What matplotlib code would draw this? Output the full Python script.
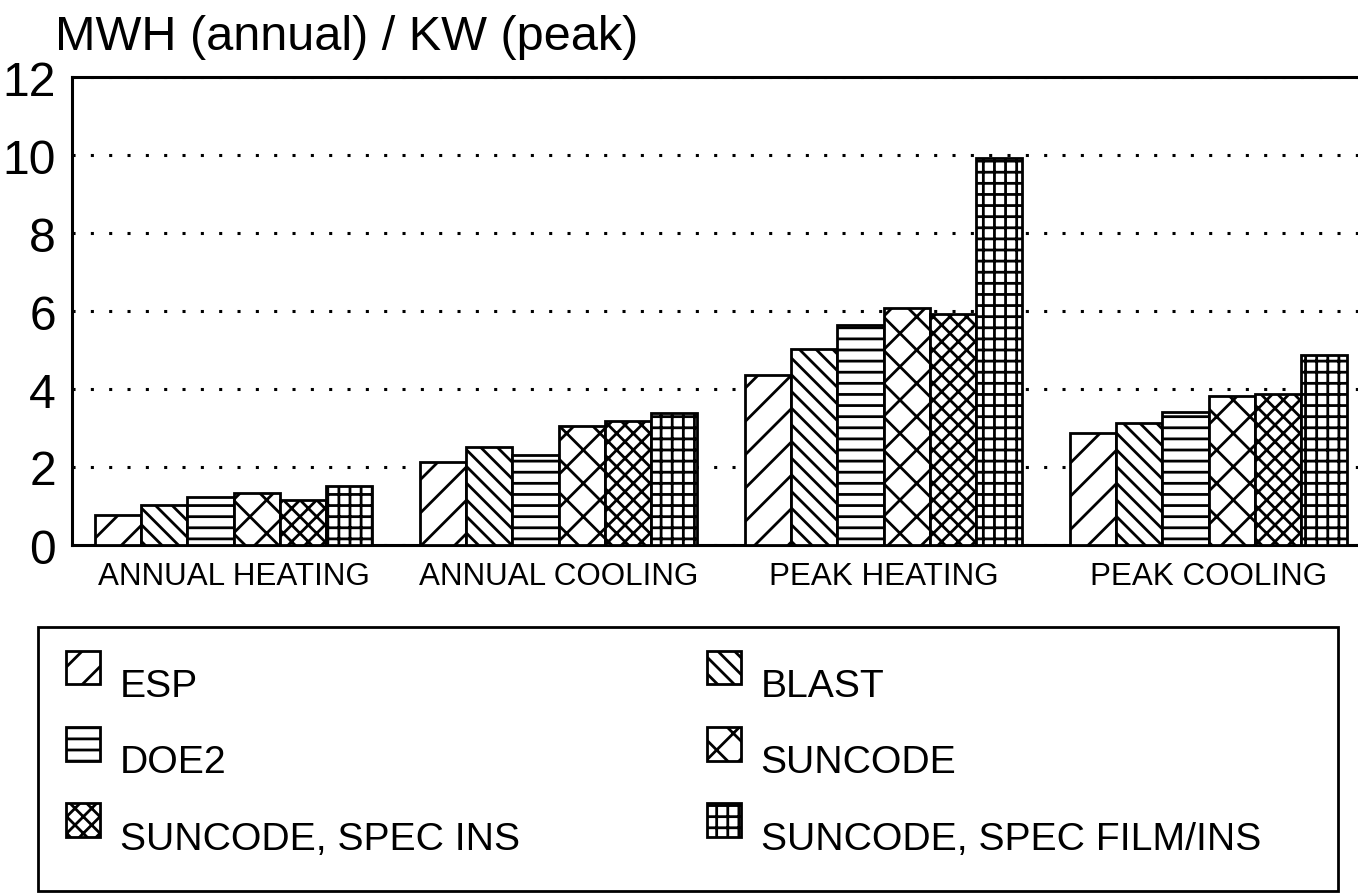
import numpy as np
import matplotlib
matplotlib.use("Agg")
import matplotlib.pyplot as plt
from matplotlib.patches import Rectangle
from matplotlib.transforms import ScaledTranslation

# values (MWH annual / KW peak)
categories = ["ANNUAL HEATING", "ANNUAL COOLING", "PEAK HEATING", "PEAK COOLING"]
models = ["ESP", "BLAST", "DOE2", "SUNCODE", "SUNCODE, SPEC INS", "SUNCODE, SPEC FILM/INS"]
esp = [0.78, 2.12, 4.36, 2.88]
blast = [1.02, 2.52, 5.03, 3.12]
doe2 = [1.24, 2.30, 5.65, 3.42]
suncode = [1.34, 3.04, 6.08, 3.82]
spec_ins = [1.16, 3.18, 5.92, 3.88]
spec_film = [1.51, 3.39, 9.92, 4.87]
series = [esp, blast, doe2, suncode, spec_ins, spec_film]
hatches = ['//', '\\\\\\\\', '---', 'xx', 'xxxx', '+++']
yticks = [0, 2, 4, 6, 8, 10, 12]

# hatch spacing is tied to dpi, so use a high dpi with a small figure
DPI = 200
W, H = 1358, 895
plt.rcParams['font.family'] = ['Liberation Sans', 'DejaVu Sans']
plt.rcParams['hatch.linewidth'] = 1.0

fig = plt.figure(figsize=(W / DPI, H / DPI), dpi=DPI)
ax = fig.add_axes([72 / W, 1 - 546 / H, (W - 72) / W, 468 / H])

x = np.arange(len(categories))
w = 0.142
bars = []
for i in range(len(models)):
    b = ax.bar(x + (i - 2.5) * w, series[i], w, color='white', edgecolor='black',
               linewidth=1.0, hatch=hatches[i], label=models[i], zorder=3)
    bars.append(b)

ax.set_xlim(-0.497, -0.497 + (W - 72) / 325.0)
ax.set_ylim(0, 12)
ax.set_yticks(yticks)
ax.set_xticks(x)
ax.set_xticklabels(categories, fontsize=11.3)
ax.tick_params(axis='y', labelsize=17.3, length=0, pad=5.8)
ax.tick_params(axis='x', length=0, pad=5.8)
ax.yaxis.grid(True, linestyle=(0, (1, 5)), color='black', linewidth=1.1)
ax.set_axisbelow(True)
ax.spines['right'].set_visible(False)
for s in ['left', 'top', 'bottom']:
    ax.spines[s].set_linewidth(1.1)

fig.text(55 / W, 1 - 50 / H, "MWH (annual) / KW (peak)", fontsize=17.5, va='baseline', ha='left')

# legend box
fig.patches.append(Rectangle((38 / W, 1 - 892 / H), 1300 / W, 264 / H, transform=fig.transFigure,
                             fill=False, edgecolor='black', linewidth=1.0))
order = [0, 2, 4, 1, 3, 5]
leg = fig.legend(handles=[bars[i] for i in order], labels=[models[i] for i in order],
                 ncol=2, frameon=False,
                 loc='upper left', bbox_to_anchor=(50 / W, 1 - 636 / H),
                 fontsize=14.1, handlelength=0.88, handleheight=0.95,
                 handletextpad=0.5, labelspacing=0.97, columnspacing=4.77,
                 borderaxespad=0)
for t in leg.get_texts():
    t.set_transform(t.get_transform() + ScaledTranslation(0, -15 / DPI, fig.dpi_scale_trans))

fig.savefig("out.png", dpi=DPI)
